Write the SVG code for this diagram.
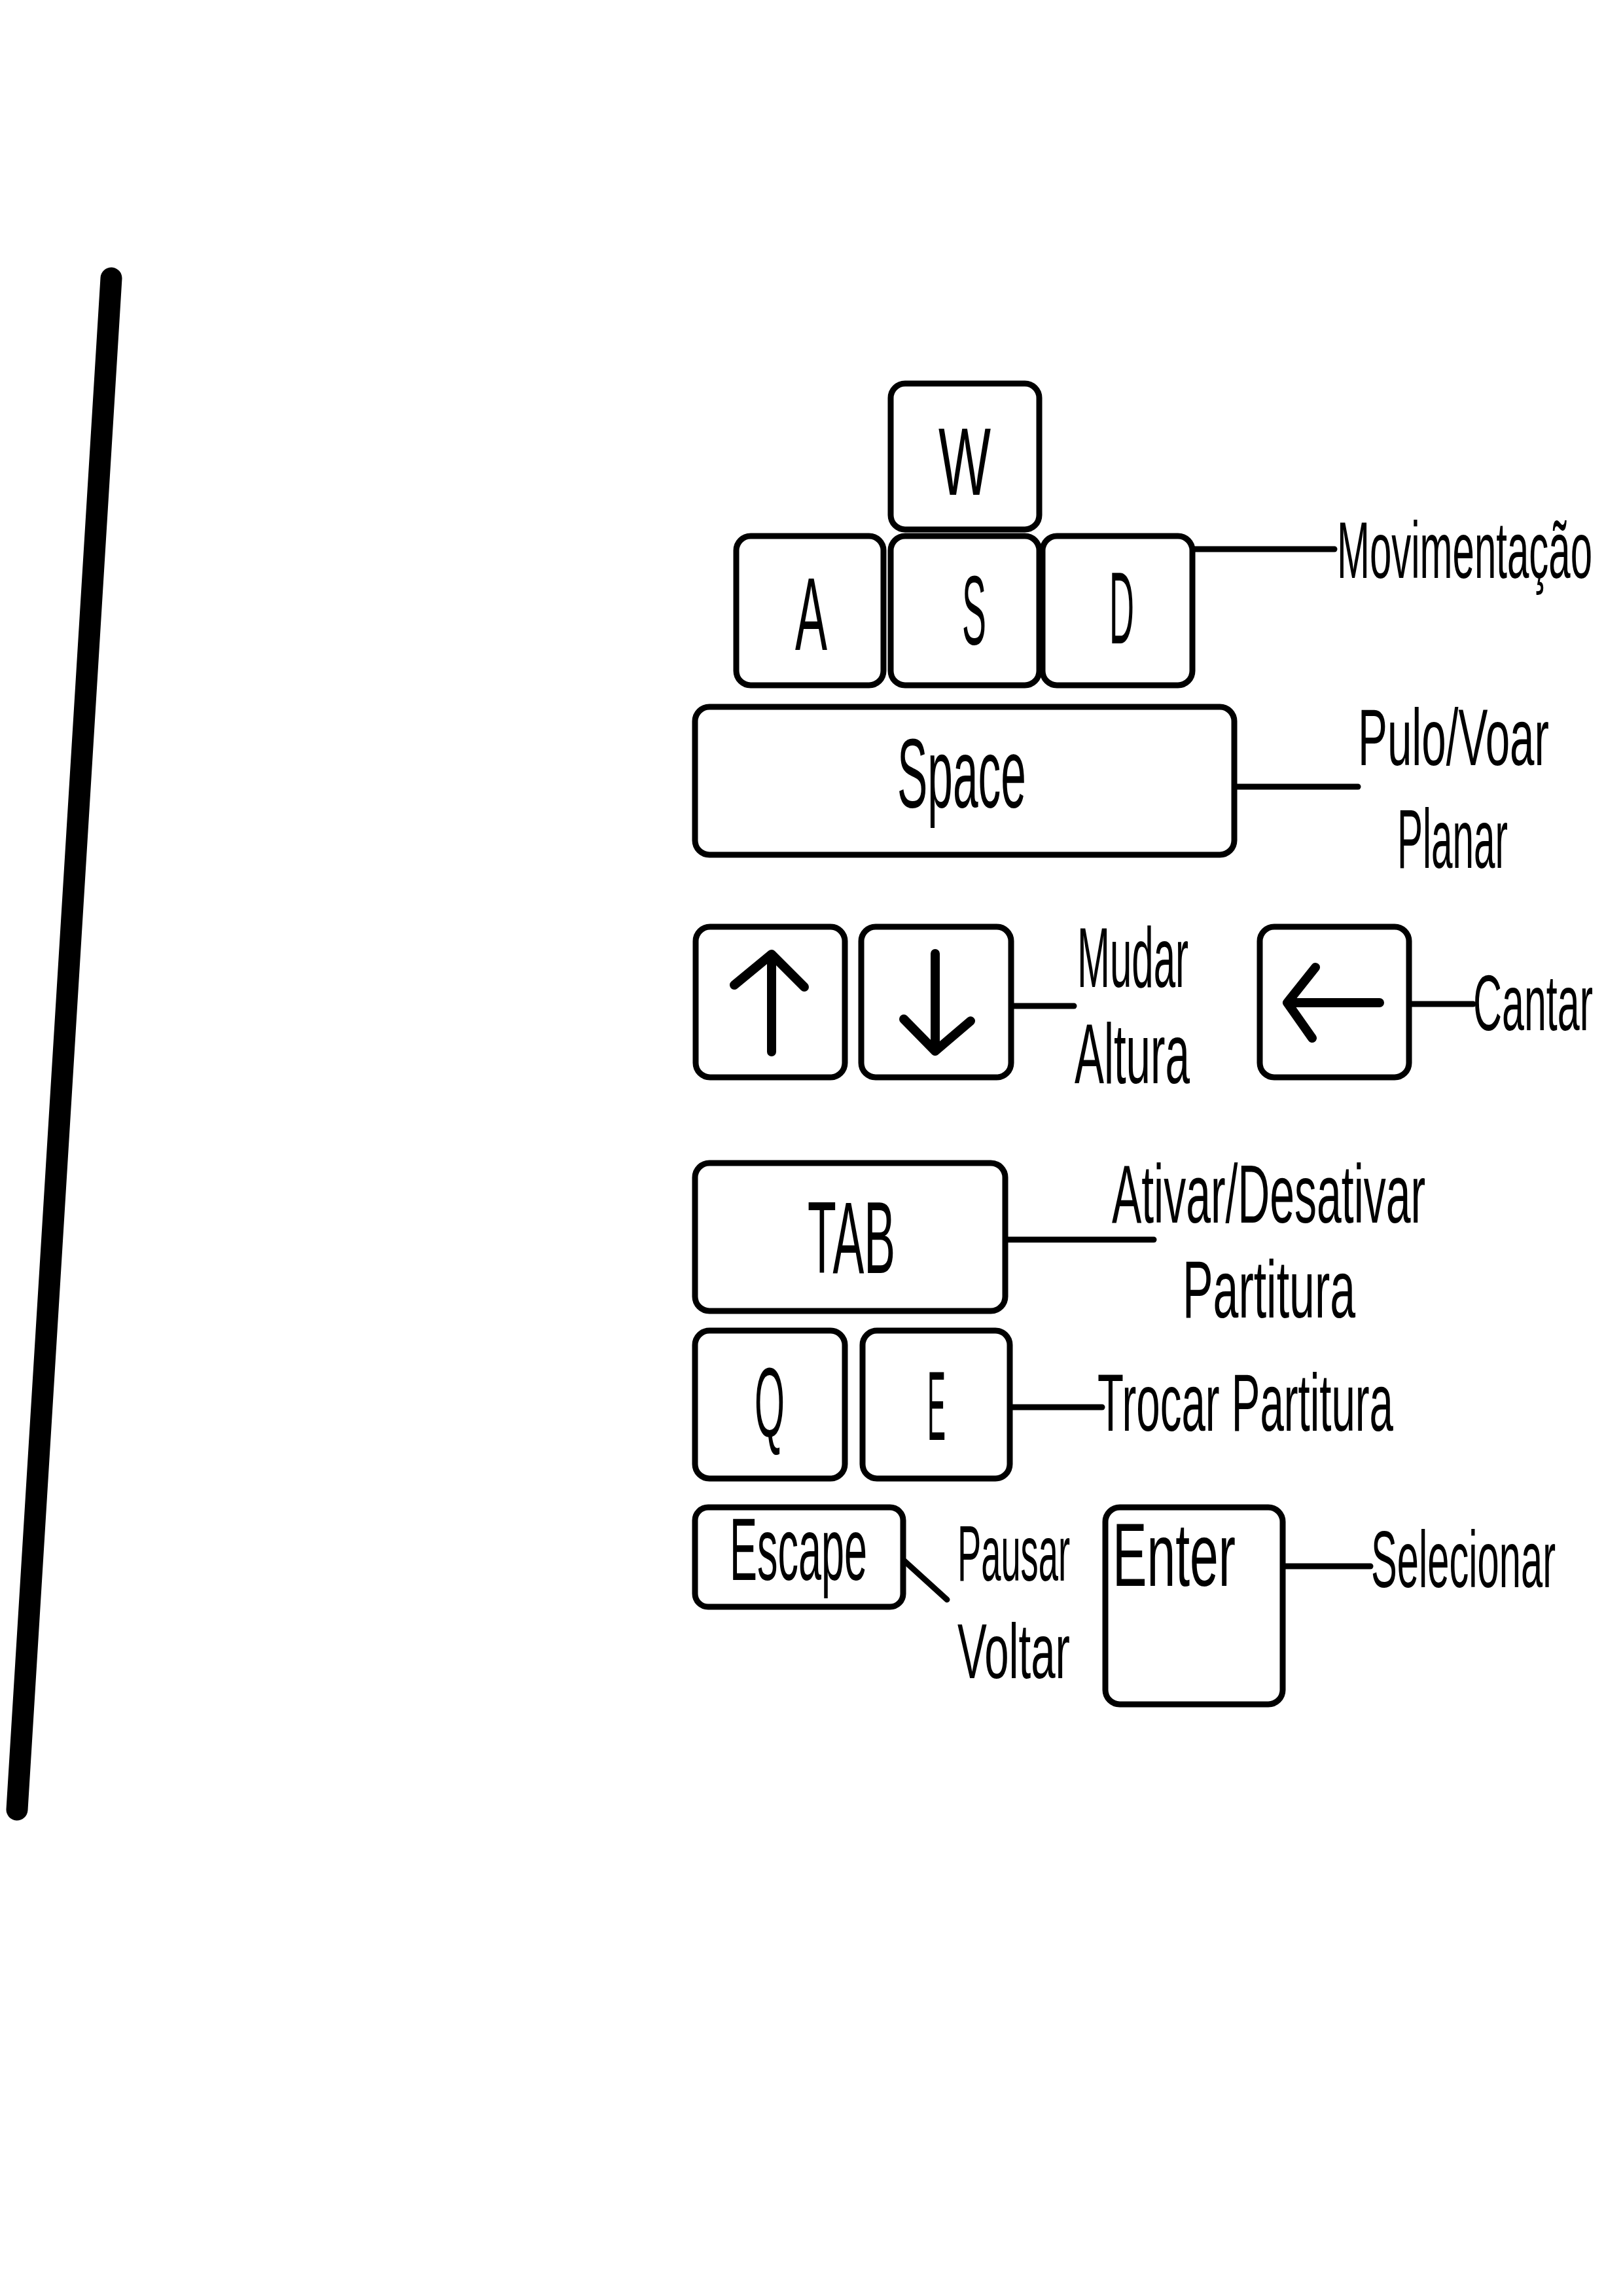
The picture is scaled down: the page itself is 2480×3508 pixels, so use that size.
<svg xmlns="http://www.w3.org/2000/svg" width="2480" height="3508" viewBox="0 0 2480 3508">
<style>
.key{fill:#fff;stroke:#000;stroke-width:9;}
.t{font-family:"Liberation Sans",Arial,sans-serif;fill:#000;}
.c{stroke:#000;stroke-width:9;stroke-linecap:round;fill:none;}
.ar{stroke:#000;stroke-width:14;stroke-linecap:round;stroke-linejoin:round;fill:none;}
</style>
<rect width="2480" height="3508" fill="#fff"/>
<line x1="170" y1="425" x2="26" y2="2765" stroke="#000" stroke-width="33" stroke-linecap="round"/>

<g id="key-w"><rect class="key" x="1361" y="586" width="227" height="223" rx="22"/><text class="t" transform="translate(1434 756) scale(1 1.72)" font-size="85" textLength="80" lengthAdjust="spacingAndGlyphs">W</text></g>
<g id="key-a"><rect class="key" x="1125" y="819" width="225" height="228" rx="22"/><text class="t" transform="translate(1215 993) scale(1 2.16)" font-size="73" textLength="49" lengthAdjust="spacingAndGlyphs">A</text></g>
<g id="key-s"><rect class="key" x="1361" y="819" width="227" height="228" rx="22"/><text class="t" transform="translate(1470 985) scale(1 2.72)" font-size="55" textLength="37" lengthAdjust="spacingAndGlyphs">S</text></g>
<g id="key-d"><rect class="key" x="1593" y="819" width="229" height="228" rx="22"/><text class="t" transform="translate(1695 983) scale(1 2.93)" font-size="53" textLength="38" lengthAdjust="spacingAndGlyphs">D</text></g>
<g id="key-space"><rect class="key" x="1062" y="1080" width="824" height="226" rx="22"/><text class="t" transform="translate(1371 1234) scale(1 2.16)" font-size="69.5" textLength="197" lengthAdjust="spacingAndGlyphs">Space</text></g>

<g id="key-up"><rect class="key" x="1063" y="1416" width="228" height="230" rx="22"/><path class="ar" d="M1179 1607 L1179 1458 M1122 1505 L1179 1458 L1229 1508"/></g>
<g id="key-down"><rect class="key" x="1316" y="1416" width="229" height="230" rx="22"/><path class="ar" d="M1429 1457 L1429 1606 M1381 1557 L1429 1606 L1483 1560"/></g>
<g id="key-left"><rect class="key" x="1925" y="1416" width="228" height="230" rx="22"/><path class="ar" d="M2108 1532 L1967 1532 M2010 1478 L1967 1532 L2005 1586" stroke-width="17"/></g>

<g id="key-tab"><rect class="key" x="1062" y="1777" width="474" height="226" rx="22"/><text class="t" transform="translate(1234 1945) scale(1 2.25)" font-size="69" textLength="134" lengthAdjust="spacingAndGlyphs">TAB</text></g>
<g id="key-q"><rect class="key" x="1062" y="2033" width="229" height="226" rx="22"/><text class="t" transform="translate(1153 2195) scale(1 2.54)" font-size="59" textLength="46" lengthAdjust="spacingAndGlyphs">Q</text></g>
<g id="key-e"><rect class="key" x="1318" y="2033" width="225" height="226" rx="22"/><text class="t" transform="translate(1417 2200) scale(1 3.57)" font-size="42" textLength="28" lengthAdjust="spacingAndGlyphs">E</text></g>
<g id="key-escape"><rect class="key" x="1062" y="2303" width="318" height="152" rx="20"/><text class="t" transform="translate(1115 2414) scale(1 2.14)" font-size="63" textLength="210" lengthAdjust="spacingAndGlyphs">Escape</text></g>
<g id="key-enter"><rect class="key" x="1689" y="2303" width="271" height="301" rx="22"/><text class="t" transform="translate(1700 2423) scale(1 1.75)" font-size="78.7" textLength="188" lengthAdjust="spacingAndGlyphs">Enter</text></g>

<g id="connectors">
<line class="c" x1="1826" y1="839" x2="2039" y2="839"/>
<line class="c" x1="1890" y1="1202" x2="2075" y2="1202"/>
<line class="c" x1="1547" y1="1537" x2="1641" y2="1537"/>
<line class="c" x1="2157" y1="1534" x2="2251" y2="1534"/>
<line class="c" x1="1538" y1="1894" x2="1763" y2="1894"/>
<line class="c" x1="1546" y1="2150" x2="1684" y2="2150"/>
<line class="c" x1="1382" y1="2385" x2="1447" y2="2444"/>
<line class="c" x1="1964" y1="2393" x2="2094" y2="2393"/>
</g>

<g id="labels">
<text class="t" transform="translate(2043 883) scale(1 2.03)" font-size="60" textLength="390" lengthAdjust="spacingAndGlyphs">Movimentação</text>
<text class="t" transform="translate(2075 1169) scale(1 1.83)" font-size="66.5" textLength="292" lengthAdjust="spacingAndGlyphs">Pulo/Voar</text>
<text class="t" transform="translate(2135 1326) scale(1 2.19)" font-size="58.5" textLength="169" lengthAdjust="spacingAndGlyphs">Planar</text>
<text class="t" transform="translate(1646 1508) scale(1 2.17)" font-size="60" textLength="170" lengthAdjust="spacingAndGlyphs">Mudar</text>
<text class="t" transform="translate(1642 1655) scale(1 1.93)" font-size="67.4" textLength="176" lengthAdjust="spacingAndGlyphs">Altura</text>
<text class="t" transform="translate(2251 1574) scale(1 1.97)" font-size="61" textLength="183" lengthAdjust="spacingAndGlyphs">Cantar</text>
<text class="t" transform="translate(1699 1868) scale(1 1.86)" font-size="67.9" textLength="479" lengthAdjust="spacingAndGlyphs">Ativar/Desativar</text>
<text class="t" transform="translate(1807 2013) scale(1 1.77)" font-size="69.9" textLength="264" lengthAdjust="spacingAndGlyphs">Partitura</text>
<text class="t" transform="translate(1677 2186) scale(1 1.91)" font-size="65" textLength="452" lengthAdjust="spacingAndGlyphs">Trocar Partitura</text>
<text class="t" transform="translate(1463 2415) scale(1 2.21)" font-size="54.3" textLength="172" lengthAdjust="spacingAndGlyphs">Pausar</text>
<text class="t" transform="translate(1463 2564) scale(1 1.79)" font-size="65.9" textLength="172" lengthAdjust="spacingAndGlyphs">Voltar</text>
<text class="t" transform="translate(2095 2425) scale(1 2.04)" font-size="59.7" textLength="282" lengthAdjust="spacingAndGlyphs">Selecionar</text>
</g>
</svg>
